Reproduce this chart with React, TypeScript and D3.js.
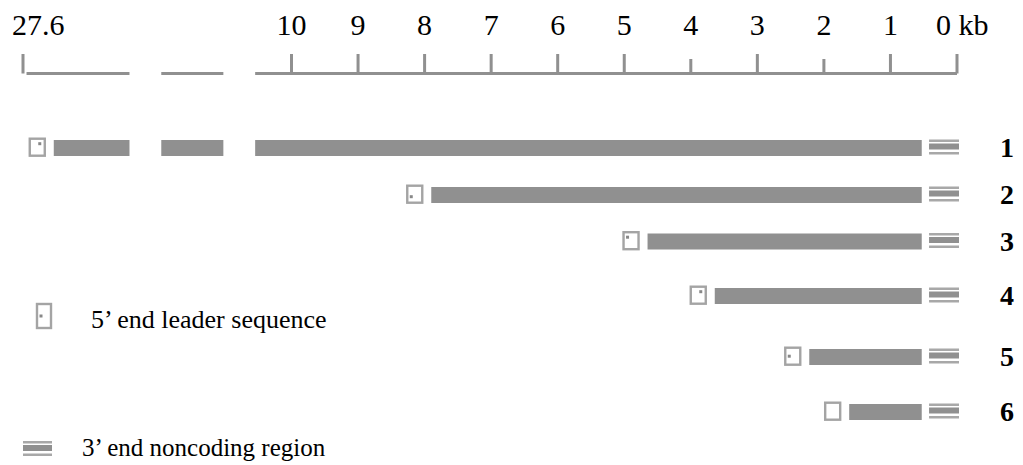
import React from "react";
import * as d3 from "d3";

// Transcript map: distances in kb from the 3' end (0 kb at the right).
const transcripts = ["1", "2", "3", "4", "5", "6"];
const leaderStartKb = [25.7, 7.9, 4.65, 3.64, 2.22, 1.62];
const codingEndKb = 0.53;
const noncodingKb: [number, number] = [0.42, 0];
// where the small mark sits inside each leader box
const leaderMark = ["tr", "bl", "tl", "tr", "ml", ""];

const tickValues = [27.6, 10, 9, 8, 7, 6, 5, 4, 3, 2, 1, 0];
const shortTicks = [4, 2];
const tickLabels = ["27.6", "10", "9", "8", "7", "6", "5", "4", "3", "2", "1", "0 kb"];
// the axis is broken between 27.6 and 10 kb
const axisGaps: [number, number][] = [
  [20.7, 18.6],
  [14.5, 12.4],
];
const axisExtent: [number, number] = [27.5, 0];

const legendItems = ["5’ end leader sequence", "3’ end noncoding region"];

const W = 1023;
const H = 465;
const GRAY = "#909090";
const LIGHT = "#a4a4a4";
const SERIF = "'Liberation Serif', 'Times New Roman', Times, serif";

const x = d3.scaleLinear().domain([0, 10, 27.6]).range([957, 291.5, 25]);
// row spacing widens towards the bottom
const rowY: Record<string, number> = { "1": 148, "2": 195, "3": 241.5, "4": 296, "5": 357, "6": 412 };

// split a [from, to] kb span (from > to) around the axis gaps
function splitSpan(from: number, to: number): [number, number][] {
  let parts: [number, number][] = [[from, to]];
  for (const [g0, g1] of axisGaps) {
    const next: [number, number][] = [];
    for (const [a, b] of parts) {
      if (a <= g1 || b >= g0) {
        next.push([a, b]);
        continue;
      }
      if (a > g0) next.push([a, g0]);
      if (b < g1) next.push([g1, b]);
    }
    parts = next;
  }
  return parts;
}

function LeaderBox({ cx, cy, w, h, mark }: { cx: number; cy: number; w: number; h: number; mark: string }) {
  const x0 = cx - w / 2;
  const y0 = cy - h / 2;
  let mx = x0 + w / 2;
  let my = y0 + h / 2;
  if (mark.includes("l")) mx = x0 + 4;
  if (mark.includes("r")) mx = x0 + w - 5;
  if (mark.includes("t")) my = y0 + 5;
  if (mark.includes("b")) my = y0 + h - 6;
  return (
    <g>
      <rect x={x0} y={y0} width={w} height={h} fill="#fff" stroke={LIGHT} strokeWidth={2.4} />
      {mark && <rect x={mx - 1.5} y={my - 1.5} width={3} height={3} fill="#888" />}
    </g>
  );
}

function Noncoding({ x0, x1, cy }: { x0: number; x1: number; cy: number }) {
  return (
    <g fill={GRAY}>
      <rect x={x0} y={cy - 8.5} width={x1 - x0} height={2.5} fill="#a8a8a8" />
      <rect x={x0} y={cy - 4.5} width={x1 - x0} height={6} />
      <rect x={x0} y={cy + 4} width={x1 - x0} height={2.5} fill="#a8a8a8" />
    </g>
  );
}

export default function App() {
  const axisY = 73.5;
  return (
    <svg
      width={W}
      height={H}
      viewBox={`0 0 ${W} ${H}`}
      style={{ position: "absolute", left: 0, top: 0, background: "#fff" }}
    >
      {/* axis */}
      <g>
        {splitSpan(axisExtent[0], axisExtent[1]).map(([a, b], i) => (
          <rect key={i} x={x(a)} y={axisY - 1.5} width={x(b) - x(a)} height={3} fill={GRAY} />
        ))}
        {tickValues.map((v, i) => {
          const short = shortTicks.includes(v);
          const tx = v === 27.6 ? x(v) - 2 : x(v);
          return (
            <rect
              key={"t" + i}
              x={tx - 1.5}
              y={short ? 59 : 54}
              width={3}
              height={short ? axisY - 59 : axisY - 54}
              fill={GRAY}
            />
          );
        })}
        {tickValues.map((v, i) => {
          const first = i === 0;
          const last = i === tickValues.length - 1;
          return (
            <text
              key={"l" + i}
              x={first ? x(v) - 13 : last ? x(v) - 21 : x(v)}
              y={35}
              textAnchor={first || last ? "start" : "middle"}
              fontFamily={SERIF}
              fontSize={30}
              fill="#000"
            >
              {tickLabels[i]}
            </text>
          );
        })}
      </g>

      {/* transcripts */}
      {transcripts.map((t, i) => {
        const cy = rowY[t];
        const start = leaderStartKb[i];
        const barStartX = x(start);
        return (
          <g key={t}>
            <LeaderBox cx={barStartX - 16.5} cy={cy - 0.8} w={15} h={17} mark={leaderMark[i]} />
            {splitSpan(start, codingEndKb).map(([a, b], j) => (
              <rect key={j} x={x(a)} y={cy - 8} width={x(b) - x(a)} height={16} fill={GRAY} />
            ))}
            <Noncoding x0={x(noncodingKb[0])} x1={x(noncodingKb[1]) + 2} cy={cy} />
            <text
              x={1007}
              y={cy + 9}
              textAnchor="middle"
              fontFamily={SERIF}
              fontWeight="bold"
              fontSize={28}
              fill="#000"
            >
              {t}
            </text>
          </g>
        );
      })}

      {/* legend */}
      <g>
        <LeaderBox cx={44} cy={316} w={14} h={24} mark="ml" />
        <text x={91} y={328} fontFamily={SERIF} fontSize={26} fill="#000">
          {legendItems[0]}
        </text>
        <Noncoding x0={23} x1={52} cy={449.5} />
        <text x={82} y={456} fontFamily={SERIF} fontSize={25} fill="#000">
          {legendItems[1]}
        </text>
      </g>
    </svg>
  );
}
